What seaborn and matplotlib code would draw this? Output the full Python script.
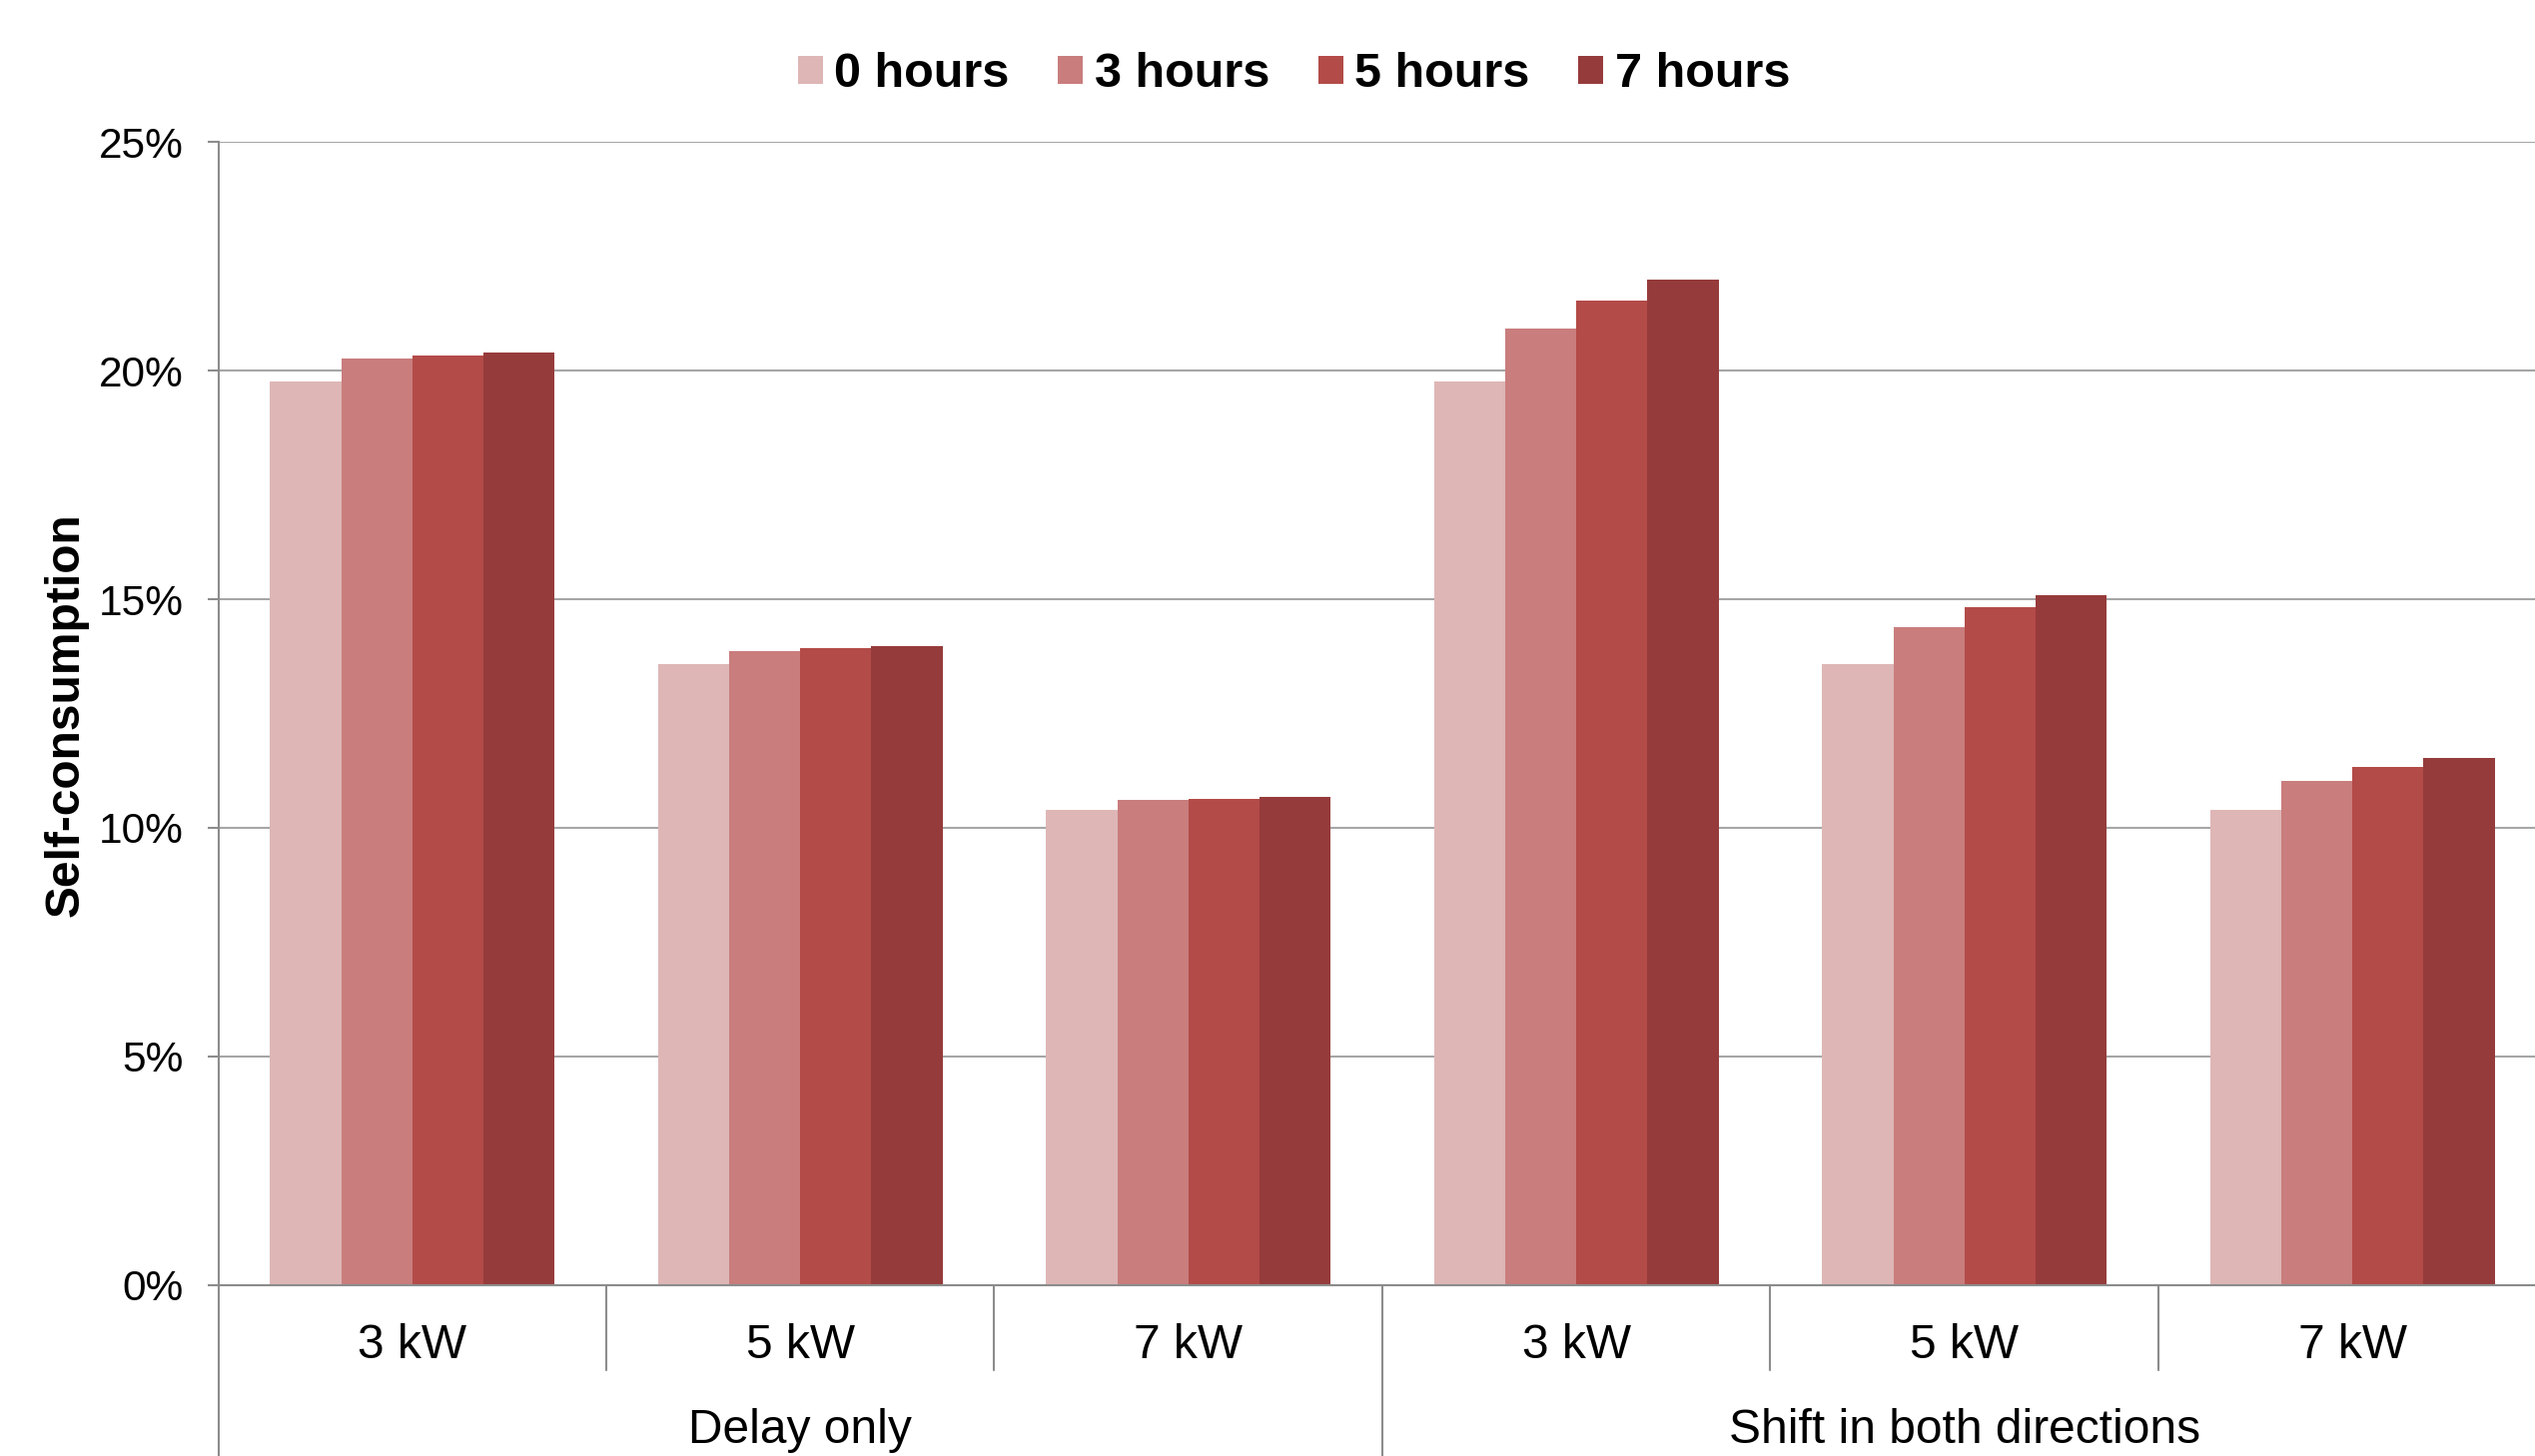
import pandas as pd
import matplotlib
matplotlib.use('Agg')
import matplotlib.pyplot as plt
import matplotlib.transforms as mtransforms
from matplotlib.ticker import FuncFormatter
import seaborn as sns

# Data (self-consumption, %)
strategies = ['Delay only', 'Shift in both directions']
powers = ['3 kW', '5 kW', '7 kW']
hours = ['0 hours', '3 hours', '5 hours', '7 hours']

delay_vals = {
    '0 hours': [19.77, 13.58, 10.40],
    '3 hours': [20.26, 13.86, 10.61],
    '5 hours': [20.33, 13.93, 10.64],
    '7 hours': [20.40, 13.97, 10.68],
}
shift_vals = {
    '0 hours': [19.77, 13.58, 10.40],
    '3 hours': [20.93, 14.39, 11.03],
    '5 hours': [21.53, 14.82, 11.32],
    '7 hours': [21.99, 15.10, 11.53],
}

colors = ['#DEB6B6', '#C97D7D', '#B34B48', '#963B3B']

# Build long table
rows = []
for strat, vals in zip(strategies, [delay_vals, shift_vals]):
    for i, p in enumerate(powers):
        for h in hours:
            rows.append({'cat': strat + '|' + p, 'strategy': strat, 'power': p,
                         'hours': h, 'value': vals[h][i]})
df = pd.DataFrame(rows)
cat_order = [s + '|' + p for s in strategies for p in powers]

sns.set_style('white')
plt.rcParams['font.family'] = ['Liberation Sans', 'DejaVu Sans']
plt.rcParams['text.color'] = 'black'
plt.rcParams['axes.labelcolor'] = 'black'
plt.rcParams['ytick.labelcolor'] = 'black'

fig = plt.figure(figsize=(25.38, 14.58), dpi=100)
# axes run slightly past the right edge of the figure, as in the reference
ax = fig.add_axes([0.0861, 0.1176, 0.9184, 0.7847])

sns.barplot(data=df, x='cat', y='value', hue='hours', order=cat_order,
            hue_order=hours, palette=colors, width=0.733, gap=0,
            saturation=1, errorbar=None, linewidth=0, ax=ax)

ax.set_xlim(-0.5, len(cat_order) - 0.5)
ax.set_ylim(0, 25)
ax.set_yticks([0, 5, 10, 15, 20, 25])
ax.yaxis.set_major_formatter(FuncFormatter(lambda v, pos: f'{v:.0f}%'))
ax.tick_params(axis='y', labelsize=30.5, length=8, width=1.5, color='#8C8C8C',
               pad=17, left=True, direction='out', labelcolor='black')
ax.tick_params(axis='x', bottom=False, labelbottom=False)
ax.set_xlabel('')
ax.set_ylabel('')

ax.set_axisbelow(True)
ax.yaxis.grid(True, color='#A6A6A6', linewidth=1.5)
ax.xaxis.grid(False)
for side in ['top', 'right']:
    ax.spines[side].set_visible(False)
for side in ['left', 'bottom']:
    ax.spines[side].set_color('#8C8C8C')
    ax.spines[side].set_linewidth(1.5)

# Two-level category axis
trans = mtransforms.blended_transform_factory(ax.transData, ax.transAxes)
for i, c in enumerate(cat_order):
    ax.text(i, -0.053, c.split('|')[1], transform=trans, ha='center',
            va='center', fontsize=34.5, color='black')
for j, s in enumerate(strategies):
    ax.text(j * 3 + 1, -0.128, s, transform=trans, ha='center', va='center',
            fontsize=34.5, color='black')
for k in range(len(cat_order)):
    x = k - 0.5
    y_end = -0.155 if k % 3 == 0 else -0.075
    ax.plot([x, x], [0, y_end], transform=trans, color='#8C8C8C',
            linewidth=1.5, clip_on=False)

fig.text(0.026, 0.509, 'Self-consumption', rotation=90, ha='center',
         va='center', fontsize=34.5, fontweight='bold', color='black')

sns.move_legend(ax, 'center', bbox_to_anchor=(0.462, 1.059), ncol=4,
                frameon=False, title=None, prop={'size': 35, 'weight': 'bold'},
                handlelength=0.52, handleheight=0.52, handletextpad=0.23,
                columnspacing=1.0, labelcolor='black')

fig.savefig('out.png', dpi=100)
